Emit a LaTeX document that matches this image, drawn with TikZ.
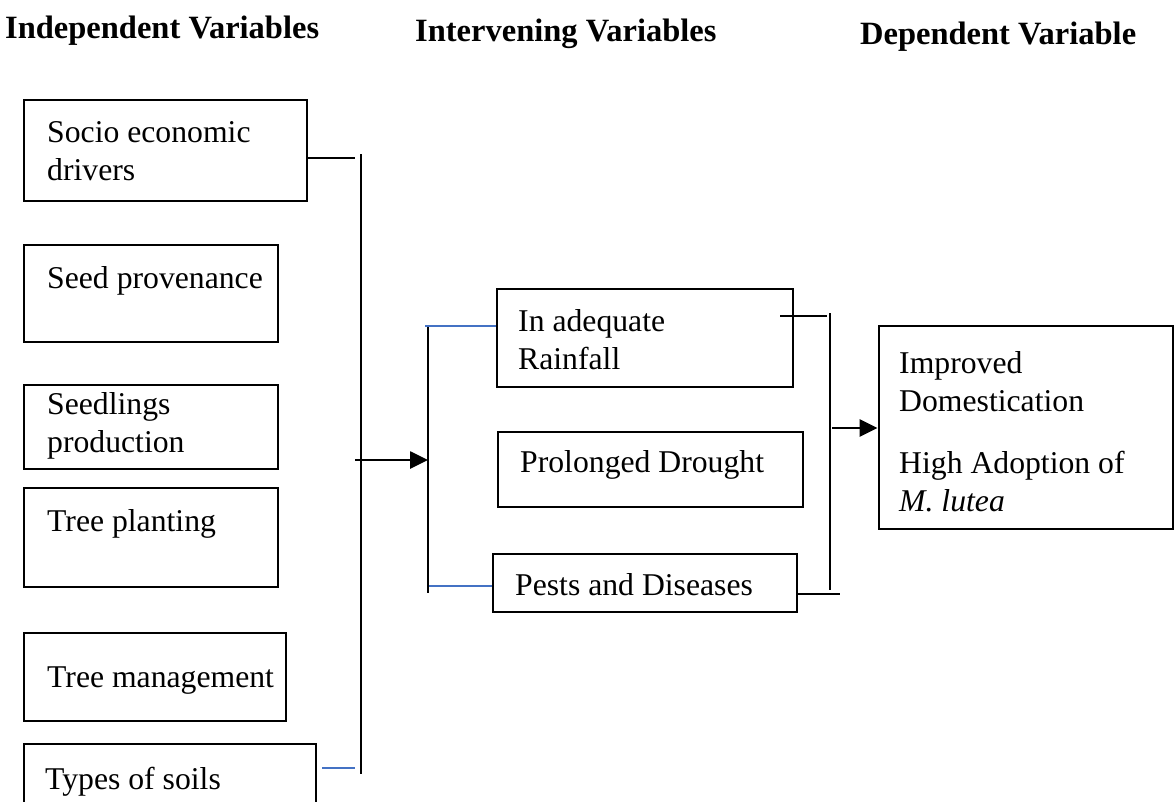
\documentclass[tikz,border=0pt]{standalone}
\usepackage{fontspec}
\setmainfont{Liberation Serif}
\usetikzlibrary{arrows.meta}
\definecolor{linkblue}{RGB}{68,114,196}
\begin{document}
\begin{tikzpicture}[x=1pt,y=-1pt,
  box/.style={draw, line width=2.9pt, inner sep=0pt},
  % base anchor of a two-line label sits on its last line
  lbl/.style={anchor=base west, inner sep=0pt, align=left,
    font=\fontsize{31.7}{38}\selectfont},
  head/.style={anchor=base west, inner sep=0pt,
    font=\fontsize{32.5}{38}\selectfont\bfseries},
  wire/.style={line width=2.7pt},
  bluewire/.style={line width=2.7pt, draw=linkblue},
  arr/.style={wire, -{Triangle[length=18pt,width=17pt]}}
]
\useasboundingbox (0,0) rectangle (1175,801);
\clip (0,0) rectangle (1175,801);

% column headings
\node[head] (h1) at (5,38)   {Independent Variables};
\node[head] (h2) at (415,41) {Intervening Variables};
\node[head] (h3) at (860,44) {Dependent Variable};

% independent variables
\node[box, minimum width=283, minimum height=101] (socio) at (165.5,150.5) {};
\node[box, minimum width=254, minimum height=97]  (seed)  at (151,293.5) {};
\node[box, minimum width=254, minimum height=84]  (seedl) at (151,427) {};
\node[box, minimum width=254, minimum height=99]  (plant) at (151,537.5) {};
\node[box, minimum width=262, minimum height=88]  (mgmt)  at (155,677) {};
\node[box, minimum width=292, minimum height=80]  (soil)  at (170,784) {};

\node[lbl] (tsocio) at (47,180) {Socio economic\\drivers};
\node[lbl] (tseed)  at (47,288) {Seed provenance};
\node[lbl] (tseedl) at (47,452) {Seedlings\\production};
\node[lbl] (tplant) at (47,531) {Tree planting};
\node[lbl] (tmgmt)  at (47,687) {Tree management};
\node[lbl] (tsoil)  at (45,789) {Types of soils};

% intervening variables
\node[box, minimum width=296, minimum height=98] (rain)    at (645,338) {};
\node[box, minimum width=305, minimum height=75] (drought) at (650.5,469.5) {};
\node[box, minimum width=304, minimum height=58] (pests)   at (645,583) {};

\node[lbl] (train)    at (518,369) {In adequate\\Rainfall};
\node[lbl] (tdrought) at (520,472) {Prolonged Drought};
\node[lbl] (tpests)   at (515,595) {Pests and Diseases};

% dependent variable
\node[box, minimum width=294, minimum height=203] (dep) at (1026,427.5) {};
\node[lbl] (tdep)  at (899,411) {Improved\\Domestication};
\node[lbl] (tdep2) at (899,511) {High Adoption of\\\textit{M. lutea}};

% left collector
\coordinate (ltop) at (361,154);
\coordinate (lbot) at (361,774);
\draw[wire] (ltop) -- (lbot);
\draw[wire] (socio.east |- 0,158) -- (355,158);
\draw[bluewire] (soil.east |- 0,768) ++(5,0) -- (355,768);
\coordinate (lout) at (355,460);

% middle collector
\coordinate (mtop) at (428,326);
\coordinate (mbot) at (428,593);
\draw[wire] (mtop) -- (mbot);
\draw[arr] (lout) -- (mtop |- lout);
\draw[bluewire] (425,326) -- (rain.west |- 0,326);
\draw[bluewire] (429,586) -- (pests.west |- 0,586);

% right collector
\coordinate (rtop) at (830,313);
\coordinate (rbot) at (830,590);
\draw[wire] (rtop) -- (rbot);
\draw[wire] (780,316) -- (827,316);
\draw[wire] (pests.east |- 0,594) -- (840,594);
\draw[arr] (832,428) -- (dep.west |- 0,428);
\end{tikzpicture}
\end{document}
